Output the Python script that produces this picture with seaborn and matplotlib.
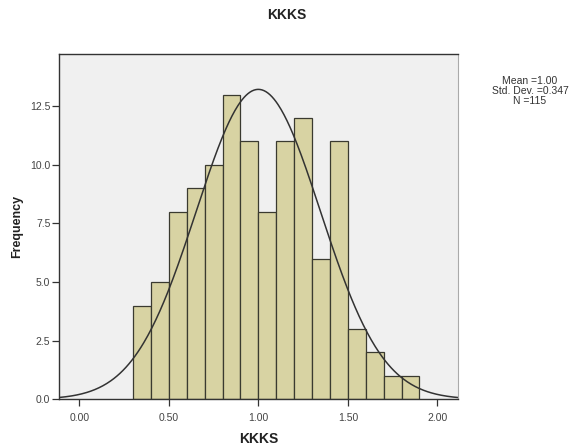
import numpy as np
import pandas as pd
import matplotlib
matplotlib.use("Agg")
import matplotlib.pyplot as plt
import seaborn as sns

# Data
bin_edges = [0.30, 0.40, 0.50, 0.60, 0.70, 0.80, 0.90, 1.00, 1.10, 1.20,
             1.30, 1.40, 1.50, 1.60, 1.70, 1.80, 1.90]
counts = [4, 5, 8, 9, 10, 13, 11, 8, 11, 12, 6, 11, 3, 2, 1, 1]
x_ticks = [0.0, 0.5, 1.0, 1.5, 2.0]
x_tick_labels = ["0.00", "0.50", "1.00", "1.50", "2.00"]
y_ticks = [0.0, 2.5, 5.0, 7.5, 10.0, 12.5]
y_tick_labels = ["0.0", "2.5", "5.0", "7.5", "10.0", "12.5"]
mean_val = 1.00
std_val = 0.347
n_val = 115

sns.set_theme(style="white")
plt.rcParams['font.family'] = ['Liberation Sans', 'DejaVu Sans']

centers = [(bin_edges[i] + bin_edges[i + 1]) / 2 for i in range(len(counts))]
df = pd.DataFrame({"value": centers, "count": counts})

fig = plt.figure(figsize=(5.73, 4.46), dpi=100)
ax = fig.add_axes([58.7 / 573, 1 - 399.3 / 446, (458.3 - 58.7) / 573, (399.3 - 54) / 446])
ax.set_facecolor("#F0F0F0")

sns.histplot(data=df, x="value", weights="count", bins=bin_edges, ax=ax,
             color="#D8D3A3", edgecolor="#3a3a30", linewidth=0.9, alpha=1.0)

# Fitted normal curve
bw = bin_edges[1] - bin_edges[0]
xs = np.linspace(-0.115, 2.117, 400)
ys = n_val * bw / (std_val * np.sqrt(2 * np.pi)) * np.exp(-0.5 * ((xs - mean_val) / std_val) ** 2)
sns.lineplot(x=xs, y=ys, ax=ax, color="#333333", linewidth=1.1)

ax.set_xlim(-0.115, 2.117)
ax.set_ylim(0, 14.73)
ax.set_xticks(x_ticks)
ax.set_xticklabels(x_tick_labels)
ax.set_yticks(y_ticks)
ax.set_yticklabels(y_tick_labels)
ax.tick_params(axis="both", which="both", direction="out", length=5, width=0.9,
               colors="#333333", labelsize=7.5, bottom=True, left=True)
ax.tick_params(axis="x", pad=5)
ax.tick_params(axis="y", pad=1)
ax.tick_params(axis="both", labelcolor="#444444")

for side in ["left", "bottom", "top"]:
    ax.spines[side].set_color("#333333")
    ax.spines[side].set_linewidth(1.0)
ax.spines["right"].set_color("#aaaaaa")
ax.spines["right"].set_linewidth(0.8)

ax.set_xlabel("KKKS", fontsize=10, fontweight="bold", color="#222222", labelpad=6)
ax.set_ylabel("Frequency", fontsize=9, fontweight="bold", color="#222222", labelpad=5)

fig.text(0.5, 1 - 15 / 446, "KKKS", ha="center", va="center", fontsize=10,
         fontweight="bold", color="#222222")
fig.text(530 / 573, 1 - 91.5 / 446,
         f"Mean ={mean_val:.2f}\nStd. Dev. ={std_val:.3f}\nN ={n_val}",
         ha="center", va="center", fontsize=7.5, color="#333333", linespacing=1.0)

fig.savefig("out.png", dpi=100)
